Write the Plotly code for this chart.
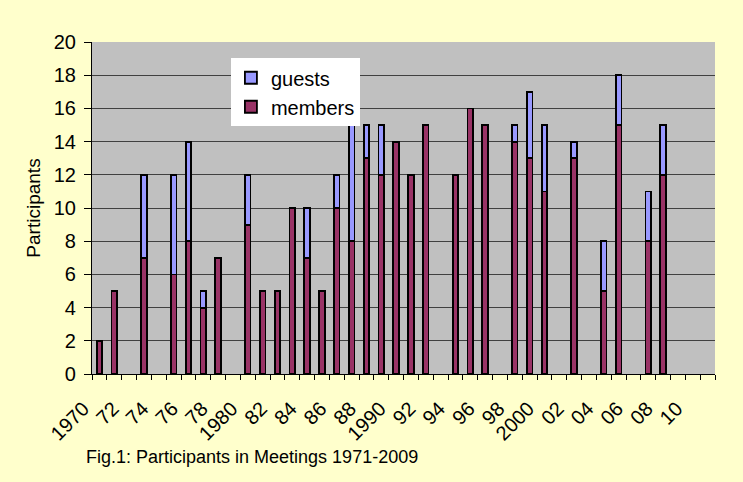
import plotly.graph_objects as go

years = [1970, 1971, 1972, 1973, 1974, 1975, 1976, 1977, 1978, 1979,
         1980, 1981, 1982, 1983, 1984, 1985, 1986, 1987, 1988, 1989,
         1990, 1991, 1992, 1993, 1994, 1995, 1996, 1997, 1998, 1999,
         2000, 2001, 2002, 2003, 2004, 2005, 2006, 2007, 2008, 2009,
         2010, 2011]
members = [2, 5, 0, 7, 0, 6, 8, 4, 7, 0,
           9, 5, 5, 10, 7, 5, 10, 8, 13, 12,
           14, 12, 15, 0, 12, 16, 15, 0, 14, 13,
           11, 0, 13, 0, 5, 15, 0, 8, 12, 0,
           0, 0]
guests = [0, 0, 0, 5, 0, 6, 6, 1, 0, 0,
          3, 0, 0, 0, 3, 0, 2, 7, 2, 3,
          0, 0, 0, 0, 0, 0, 0, 0, 1, 4,
          4, 0, 1, 0, 3, 3, 0, 3, 3, 0,
          0, 0]
tick_years = [1970, 1972, 1974, 1976, 1978, 1980, 1982, 1984, 1986, 1988,
              1990, 1992, 1994, 1996, 1998, 2000, 2002, 2004, 2006, 2008, 2010]
tick_labels = ["1970", "72", "74", "76", "78", "1980", "82", "84", "86", "88",
               "1990", "92", "94", "96", "98", "2000", "02", "04", "06", "08", "10"]
y_ticks = [0, 2, 4, 6, 8, 10, 12, 14, 16, 18, 20]

FONT = "Liberation Sans, Arial, sans-serif"

fig = go.Figure()
fig.add_trace(go.Bar(
    x=years, y=[m if m else None for m in members], name="members",
    marker=dict(color="#993366", line=dict(color="black", width=1.8)),
    width=0.38,
))
fig.add_trace(go.Bar(
    x=years, y=[g if g else None for g in guests], name="guests",
    marker=dict(color="#9999FF", line=dict(color="black", width=1.8)),
    width=0.38,
))

fig.update_layout(
    width=743, height=482,
    barmode="stack",
    paper_bgcolor="#FFFFCC",
    plot_bgcolor="#C0C0C0",
    margin=dict(l=92, r=28, t=42, b=108),
    font=dict(family=FONT, size=20, color="black"),
    showlegend=True,
    legend=dict(
        x=0.223, y=0.951, xanchor="left", yanchor="top",
        bgcolor="white", traceorder="reversed",
        font=dict(family=FONT, size=20, color="black"),
        borderwidth=0, itemwidth=30,
    ),
    xaxis=dict(
        range=[min(years) - 0.5, max(years) + 0.5],
        tickmode="array", tickvals=tick_years, ticktext=tick_labels,
        tickangle=-45, ticks="", showgrid=False, automargin=False,
        ticklabelstandoff=14, ticklabelshift=-16,
        showline=True, linecolor="black", linewidth=1.2,
        tickfont=dict(family=FONT, size=20, color="black"),
        minor=dict(tick0=1969.5, dtick=1, ticks="outside", ticklen=5,
                   tickcolor="black", tickwidth=1, showgrid=False),
        zeroline=False,
    ),
    yaxis=dict(
        range=[0, 20], tickmode="array", tickvals=y_ticks, automargin=False,
        showgrid=True, gridcolor="#404040", gridwidth=1,
        showline=True, linecolor="black", linewidth=1.2,
        ticks="outside", ticklen=7, tickcolor="black",
        ticklabelstandoff=4,
        tickfont=dict(family=FONT, size=20, color="black"),
        title=dict(text="Participants", font=dict(family=FONT, size=19, color="black"), standoff=8),
        zeroline=False,
    ),
    annotations=[dict(
        text="Fig.1: Participants in Meetings 1971-2009",
        xref="paper", yref="paper", x=-0.013, y=-0.25,
        xanchor="left", yanchor="middle", showarrow=False,
        font=dict(family=FONT, size=18, color="black"),
    )],
)

fig.write_html(
    "out.html",
    config={"displayModeBar": False},
    post_script="document.body.style.margin='0';document.body.style.padding='0';",
)
